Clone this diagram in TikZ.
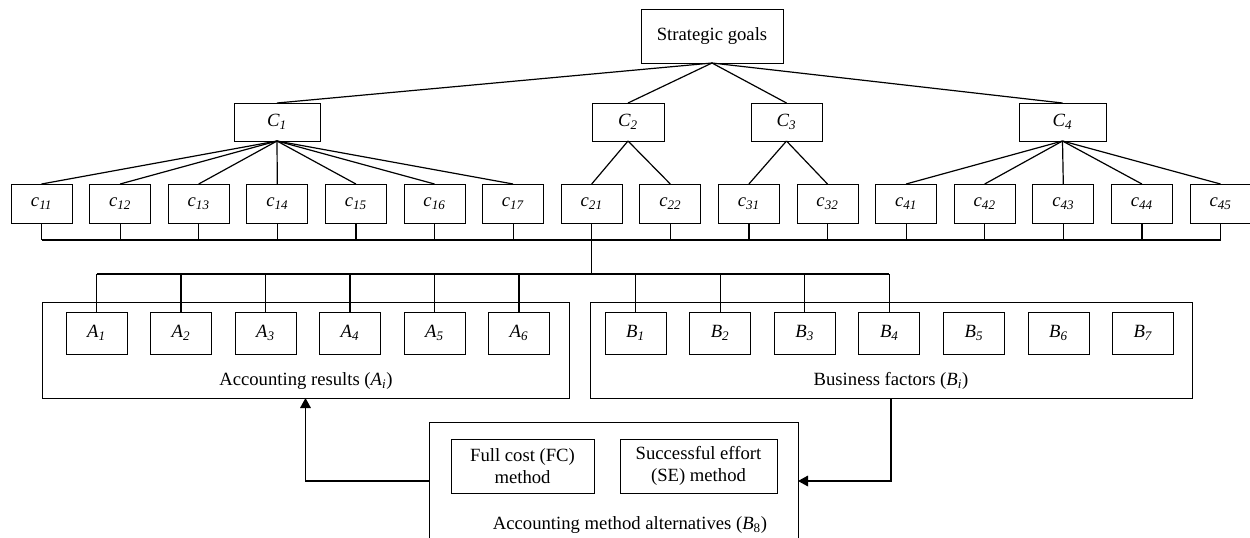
\documentclass[tikz,border=0pt]{standalone}
\usepackage{fontspec}
\setmainfont{Liberation Serif}
\usetikzlibrary{arrows.meta}

% italic symbol with italic subscript
\newcommand{\sym}[2]{\textit{#1}\textsubscript{\textit{#2}}}

\begin{document}
\begin{tikzpicture}[x=0.75pt,y=-0.75pt,
  every node/.style={font=\fontsize{14pt}{16pt}\selectfont, inner sep=0pt, outer sep=0pt},
  box/.style={draw, line width=0.75pt, align=center},
  goalbox/.style={box, minimum width=106.5pt, minimum height=40.5pt},
  critbox/.style={box, minimum height=28.5pt},
  subbox/.style={box, minimum width=45.75pt, minimum height=29.25pt},
  itembox/.style={box, minimum width=45.75pt, minimum height=31.5pt},
  groupbox/.style={draw, line width=0.75pt, minimum height=72pt},
  link/.style={line width=0.9pt},
  arr/.style={line width=0.9pt, -{Triangle[length=7.5pt,width=8pt]}}
]
\useasboundingbox (0,0) rectangle (1250,537);
\clip (0,0) rectangle (1250,537);

% top goal and criteria
\node[goalbox] (goal) at (712,36) {Strategic goals};
\node[critbox, minimum width=64.5pt] (C1) at (277,122) {\sym{C}{1}};
\node[critbox, minimum width=54pt]   (C2) at (628,122) {\sym{C}{2}};
\node[critbox, minimum width=53.25pt] (C3) at (786.5,122) {\sym{C}{3}};
\node[critbox, minimum width=65.25pt] (C4) at (1062.5,122) {\sym{C}{4}};

% sub-criteria
\foreach \n/\lab [count=\k from 0] in {c11/11,c12/12,c13/13,c14/14,c15/15,c16/16,c17/17,
    c21/21,c22/22,c31/31,c32/32,c41/41,c42/42,c43/43,c44/44,c45/45}
  \node[subbox] (\n) at ({41.5+78.6*\k},203.5) {\sym{c}{\lab}};

% goal to criteria
\foreach \c in {C1,C2,C3,C4}
  \draw[link] (goal.south) -- (\c.north);

% criteria to sub-criteria
\foreach \s in {c11,c12,c13,c14,c15,c16,c17}
  \draw[link] (C1.south) -- (\s.north);
\foreach \s in {c21,c22}
  \draw[link] (C2.south) -- (\s.north);
\foreach \s in {c31,c32}
  \draw[link] (C3.south) -- (\s.north);
\foreach \s in {c41,c42,c43,c44,c45}
  \draw[link] (C4.south) -- (\s.north);

% groups of accounting results and business factors
\node[groupbox, minimum width=395.25pt] (Abox) at (305.5,350) {};
\node[groupbox, minimum width=451.5pt]  (Bbox) at (891,350) {};
\node (Alab) at (306,381) {Accounting results (\sym{A}{i})};
\node (Blab) at (891,381) {Business factors (\sym{B}{i})};

\foreach \i [count=\k from 0] in {1,...,6}
  \node[itembox] (A\i) at ({96.5+84.5*\k},333) {\sym{A}{\i}};
\foreach \i [count=\k from 0] in {1,...,7}
  \node[itembox] (B\i) at ({635.5+84.6*\k},333) {\sym{B}{\i}};

% bus lines
\coordinate (bus1) at (0,240);
\coordinate (bus2) at (0,274);
\foreach \s in {c11,c12,c13,c14,c15,c16,c17,c21,c22,c31,c32,c41,c42,c43,c44,c45}
  \draw[link] (\s.south) -- (\s.south |- bus1);
\draw[link] (c11.south |- bus1) -- (c45.south |- bus1);
\draw[link] (c21.south |- bus1) -- (c21.south |- bus2);
\draw[link] (A1.north |- bus2) -- (B4.north |- bus2);
\foreach \t in {A1,A2,A3,A4,A5,A6,B1,B2,B3,B4}
  \draw[link] (\t.north |- bus2) -- (\t.north);

% accounting method alternatives
\node[draw, line width=0.75pt, minimum width=276.75pt, minimum height=97.5pt] (alt) at (613.5,487) {};
\node[box, minimum width=107.25pt, minimum height=40.5pt] (FC) at (522.5,466)
  {Full cost (FC)\\method};
\node[box, minimum width=117.75pt, minimum height=40.5pt] (SE) at (698.5,466)
  {Successful effort\\(SE) method};
\node (altlab) at (630,525) {Accounting method alternatives (\textit{B}\textsubscript{8})};

% feedback arrows
\coordinate (arrowrow) at (0,481);
\draw[arr] (alt.west |- arrowrow) -| (Abox.south);
\draw[arr] (Bbox.south) |- (alt.east |- arrowrow);
\end{tikzpicture}
\end{document}
